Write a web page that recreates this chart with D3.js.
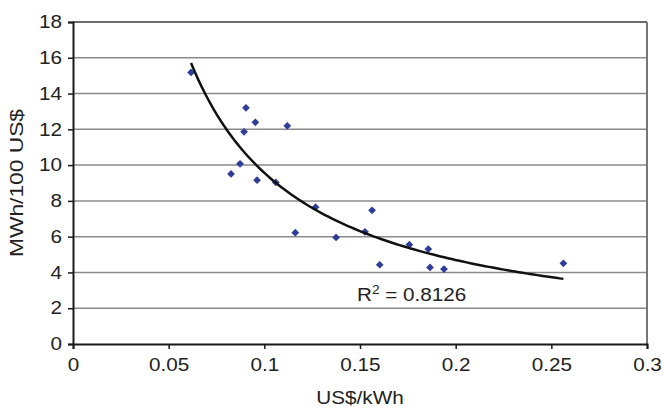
<!DOCTYPE html>
<html>
<head>
<meta charset="utf-8">
<script src="https://cdn.jsdelivr.net/npm/d3@7"></script>
<style>
  body { margin: 0; background: #fff; }
  text { font-family: "Liberation Sans", Arial, sans-serif; }
</style>
</head>
<body>
<svg id="chart" width="663" height="408"></svg>
<script>
// electricity price vs. consumption per 100 US$
const priceUSD = [0.0617, 0.0904, 0.0953, 0.0894, 0.112, 0.0873, 0.0826, 0.0962, 0.106, 0.1268,
                  0.1162, 0.1375, 0.1563, 0.1526, 0.1603, 0.1758, 0.1857, 0.1866, 0.1939, 0.2563];
const mwhPer100 = [15.18, 13.2, 12.39, 11.86, 12.2, 10.07, 9.51, 9.16, 9.03, 7.65,
                   6.22, 5.96, 7.47, 6.27, 4.43, 5.55, 5.31, 4.28, 4.19, 4.51];
const xTicks = [0, 0.05, 0.1, 0.15, 0.2, 0.25, 0.3];
const yTicks = [0, 2, 4, 6, 8, 10, 12, 14, 16, 18];
const r2Text = "0.8126";

const data = priceUSD.map((x, i) => ({ x, y: mwhPer100[i] }));

const margin = { top: 22, right: 16, bottom: 64, left: 73 },
      width = 663 - margin.left - margin.right,
      height = 408 - margin.top - margin.bottom;

const svg = d3.select("#chart");
const g = svg.append("g").attr("transform", `translate(${margin.left},${margin.top})`);

const x = d3.scaleLinear().domain([0, 0.3]).range([0, width]);
const y = d3.scaleLinear().domain([0, 18]).range([height, 0]);

// gridlines
g.selectAll(".grid")
  .data(yTicks.filter(d => d > 0 && d < 18))
  .enter().append("line")
  .attr("x1", 0).attr("x2", width)
  .attr("y1", d => y(d)).attr("y2", d => y(d))
  .attr("stroke", "#8a8a8a").attr("stroke-width", 1.5);

// top + right frame
g.append("line").attr("x1", 0).attr("x2", width).attr("y1", 0).attr("y2", 0)
  .attr("stroke", "#3a3a3a").attr("stroke-width", 1.5);
g.append("line").attr("x1", width).attr("x2", width).attr("y1", 0).attr("y2", height)
  .attr("stroke", "#777").attr("stroke-width", 2);

// power trendline (least squares on logs)
const lx = priceUSD.map(Math.log), ly = mwhPer100.map(Math.log);
const mx = d3.mean(lx), my = d3.mean(ly);
const b = d3.sum(lx, (v, i) => (v - mx) * (ly[i] - my)) / d3.sum(lx, v => (v - mx) * (v - mx));
const a = Math.exp(my - b * mx);
const [xmin, xmax] = d3.extent(priceUSD);
const trend = d3.range(0, 101).map(i => {
  const xv = xmin + (xmax - xmin) * i / 100;
  return { x: xv, y: a * Math.pow(xv, b) };
});

// axes
const xAxis = g.append("g")
  .attr("transform", `translate(0,${height})`)
  .call(d3.axisBottom(x).tickValues(xTicks).tickFormat(d => String(d)).tickSize(5).tickPadding(9));
const yAxis = g.append("g")
  .call(d3.axisLeft(y).tickValues(yTicks).tickSize(5).tickPadding(6));

[xAxis, yAxis].forEach(ax => {
  ax.select(".domain").attr("stroke", "#1a1a1a").attr("stroke-width", 2);
  ax.selectAll(".tick line").attr("stroke", "#1a1a1a").attr("stroke-width", 1.5);
  ax.selectAll(".tick text").attr("fill", "#222").style("font-size", "18px")
    .style("font-family", "'Liberation Sans', Arial, sans-serif");
});
xAxis.selectAll(".tick text").attr("transform", "scale(1.15,1)");
yAxis.selectAll(".tick text").attr("x", -9.6).attr("transform", "scale(1.15,1)");

// points
g.selectAll(".pt")
  .data(data)
  .enter().append("path")
  .attr("d", d3.symbol(d3.symbolSquare, 30))
  .attr("transform", d => `translate(${x(d.x)},${y(d.y)}) rotate(45)`)
  .attr("fill", "#2e3d98");

g.append("path")
  .datum(trend)
  .attr("d", d3.line().x(d => x(d.x)).y(d => y(d.y)))
  .attr("fill", "none")
  .attr("stroke", "#111")
  .attr("stroke-width", 2.5);

// R² label
const r2 = g.append("text")
  .attr("transform", `translate(${x(0.1484)},${y(2.42)}) scale(1.15,1)`)
  .attr("fill", "#222")
  .style("font-size", "18px");
r2.append("tspan").text("R");
r2.append("tspan").attr("dy", -7).style("font-size", "12px").text("2");
r2.append("tspan").attr("dy", 7).text(" = " + r2Text);

// axis titles
svg.append("text")
  .attr("transform", `translate(${margin.left + width / 2},404) scale(1.15,1)`)
  .attr("text-anchor", "middle")
  .attr("fill", "#222")
  .style("font-size", "18px")
  .text("US$/kWh");

svg.append("text")
  .attr("transform", `translate(23,${margin.top + height / 2}) rotate(-90)`)
  .attr("text-anchor", "middle")
  .attr("fill", "#222")
  .attr("textLength", 148)
  .attr("lengthAdjust", "spacingAndGlyphs")
  .style("font-size", "19px")
  .text("MWh/100 US$");
</script>
</body>
</html>
